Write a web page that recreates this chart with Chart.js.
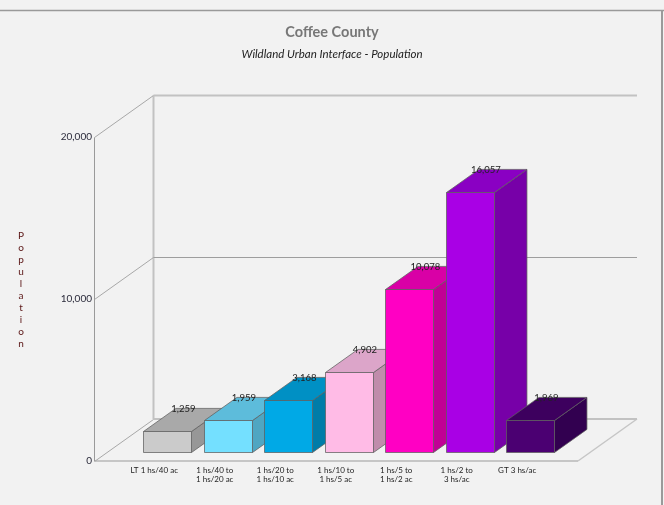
<!DOCTYPE html>
<html>
<head>
<meta charset="utf-8">
<title>Coffee County - Wildland Urban Interface - Population</title>
<script src="https://cdn.jsdelivr.net/npm/chart.js@4.4.1/dist/chart.umd.min.js"></script>
<style>
  html, body { margin: 0; padding: 0; background: #f2f2f2; }
  canvas { display: block; }
</style>
</head>
<body>
<canvas id="wuiChart" width="664" height="505"></canvas>
<script>
/* ---------- data ---------- */
const categories = [
  ['LT 1 hs/40 ac'],
  ['1 hs/40 to', '1 hs/20 ac'],
  ['1 hs/20 to', '1 hs/10 ac'],
  ['1 hs/10 to', '1 hs/5 ac'],
  ['1 hs/5 to', '1 hs/2 ac'],
  ['1 hs/2 to', '3 hs/ac'],
  ['GT 3 hs/ac']
];
const population = [1259, 1959, 3168, 4902, 10078, 16057, 1969];
const yTicks     = [0, 10000, 20000];
const axisTitle  = 'Population';

/* ---------- colours (front / top / side) ---------- */
const faceColors = ['#cbcbcb', '#74e0ff', '#00a9e6', '#ffbbe6', '#ff00c3', '#a900e5', '#4b0072'];
const topColors  = ['#a9a9a9', '#5dbcdb', '#0090c4', '#dca5c9', '#d900a6', '#8a00c3', '#3d005e'];
const sideColors = ['#979797', '#4fa6c2', '#007ca8', '#c08cab', '#c10095', '#7700a8', '#320050'];

// 3D look
const WALL_DEPTH = { x: 59, y: -42 };  // offset front plane -> back wall
const BAR_START  = 0.22;               // bars sit this far into the depth
const BAR_DEPTH  = 0.55;               // how deep each box is
const FLOOR_PAD  = 30;                 // floor overhang left/right of the categories

const FONT = 'Lato, "Open Sans", sans-serif';
const fmt = v => v.toLocaleString('en-US');

function line(c, x1, y1, x2, y2, color, width) {
  c.beginPath();
  c.strokeStyle = color;
  c.lineWidth = width;
  c.moveTo(x1, y1);
  c.lineTo(x2, y2);
  c.stroke();
}

function poly(c, pts, fill) {
  c.beginPath();
  c.moveTo(pts[0][0], pts[0][1]);
  for (let i = 1; i < pts.length; i++) c.lineTo(pts[i][0], pts[i][1]);
  c.closePath();
  c.fillStyle = fill;
  c.fill();
  c.strokeStyle = 'rgba(95,95,95,0.75)';
  c.lineWidth = 1;
  c.stroke();
}

// walls, floor, 3D boxes and the stacked axis title
const box3d = {
  id: 'box3d',
  beforeDraw(chart) {
    const c = chart.ctx;
    c.save();
    c.fillStyle = '#f2f2f2';
    c.fillRect(0, 0, chart.width, chart.height);
    line(c, 0, 10.5, chart.width, 10.5, '#9a9a9a', 1.5);
    line(c, chart.width - 2, 10, chart.width - 2, chart.height, '#9a9a9a', 2);
    c.restore();
  },
  beforeDatasetsDraw(chart) {
    const c  = chart.ctx;
    const ys = chart.scales.y;
    const { left, right } = chart.chartArea;
    const fl = Math.round(left - FLOOR_PAD) + 0.5;
    const fr = Math.round(right + FLOOR_PAD);
    const dx = WALL_DEPTH.x, dy = WALL_DEPTH.y;
    const y0 = Math.round(ys.getPixelForValue(0));
    const yTop = Math.round(ys.getPixelForValue(ys.max)) + 0.5;

    c.save();
    // floor
    line(c, fl, y0, fr, y0, '#c6c6c6', 2);
    line(c, fr, y0, fr + dx, y0 + dy, '#c6c6c6', 1.5);
    line(c, fl + dx, y0 + dy, fr + dx, y0 + dy, '#c2c2c2', 2);
    // back wall left edge
    line(c, fl + dx, yTop + dy, fl + dx, y0 + dy, '#c2c2c2', 2);
    // grid lines on side + back wall
    ys.ticks.forEach(t => {
      const y = Math.round(ys.getPixelForValue(t.value)) + 0.5;
      line(c, fl, y, fl + dx, y + dy, '#a8a8a8', 1);
      if (t.value > 0) {
        const top = t.value === ys.max;
        line(c, fl + dx, y + dy, fr + dx, y + dy, top ? '#c2c2c2' : '#9e9e9e', top ? 2 : 1);
      }
    });
    // front axis line
    line(c, fl, yTop, fl, y0, '#9a9a9a', 1);
    c.restore();
  },
  afterDatasetsDraw(chart) {
    const c = chart.ctx;
    const meta = chart.getDatasetMeta(0);
    const sx = WALL_DEPTH.x * BAR_START, sy = WALL_DEPTH.y * BAR_START;
    const bx = WALL_DEPTH.x * BAR_DEPTH, by = WALL_DEPTH.y * BAR_DEPTH;

    c.save();
    meta.data.forEach((el, i) => {
      const x1 = Math.round(el.x - el.width / 2 + sx) + 0.5;
      const x2 = Math.round(el.x + el.width / 2 + sx) + 0.5;
      const yt = Math.round(el.y + sy) + 0.5;
      const yb = Math.round(el.base + sy) + 0.5;
      poly(c, [[x2, yt], [x2 + bx, yt + by], [x2 + bx, yb + by], [x2, yb]], sideColors[i]);
      poly(c, [[x1, yt], [x1 + bx, yt + by], [x2 + bx, yt + by], [x2, yt]], topColors[i]);
      poly(c, [[x1, yt], [x2, yt], [x2, yb], [x1, yb]], faceColors[i]);
    });

    // value labels on the back edge of each top
    c.font = '9.5px ' + FONT;
    c.fillStyle = '#222';
    c.textAlign = 'center';
    c.textBaseline = 'middle';
    meta.data.forEach((el, i) => {
      c.fillText(fmt(population[i]), el.x + sx + bx / 2, el.y + sy + by + 1);
    });

    // stacked y-axis title
    c.font = '10px ' + FONT;
    c.fillStyle = '#5a1414';
    axisTitle.split('').forEach((ch, i) => c.fillText(ch, 21, 236 + i * 12));
    c.restore();
  }
};

new Chart(document.getElementById('wuiChart'), {
  type: 'bar',
  data: {
    labels: categories,
    datasets: [{
      data: population,
      backgroundColor: 'rgba(0,0,0,0)',
      borderWidth: 0,
      categoryPercentage: 1,
      barPercentage: 0.79
    }]
  },
  options: {
    responsive: false,
    animation: false,
    events: [],
    layout: { padding: 0 },
    plugins: {
      legend: { display: false },
      tooltip: { enabled: false },
      title: {
        display: true,
        text: 'Coffee County',
        color: '#777',
        font: { family: FONT, size: 14.5, weight: 'bold' },
        padding: { top: 24, bottom: 4 }
      },
      subtitle: {
        display: true,
        text: 'Wildland Urban Interface - Population',
        color: '#222',
        font: { family: FONT, size: 11.5, style: 'italic' },
        padding: { top: 2, bottom: 76 }
      }
    },
    scales: {
      x: {
        grid: { display: false, drawTicks: false },
        border: { display: false },
        ticks: {
          color: '#222',
          font: { family: FONT, size: 8, lineHeight: 1.15 },
          padding: 5,
          maxRotation: 0,
          autoSkip: false
        },
        afterFit: s => { s.height = 44; }
      },
      y: {
        min: 0,
        max: 20000,
        grid: { display: false, drawTicks: false },
        border: { display: false },
        ticks: {
          color: '#2b2b3b',
          font: { family: FONT, size: 10 },
          padding: 32,
          callback: v => fmt(v)
        },
        afterBuildTicks: s => { s.ticks = yTicks.map(value => ({ value })); },
        afterFit: s => { s.width = 124; }
      },
      yR: {
        position: 'right',
        grid: { display: false, drawTicks: false },
        border: { display: false },
        ticks: { display: false },
        afterFit: s => { s.width = 116.5; }
      }
    }
  },
  plugins: [box3d]
});
</script>
</body>
</html>
